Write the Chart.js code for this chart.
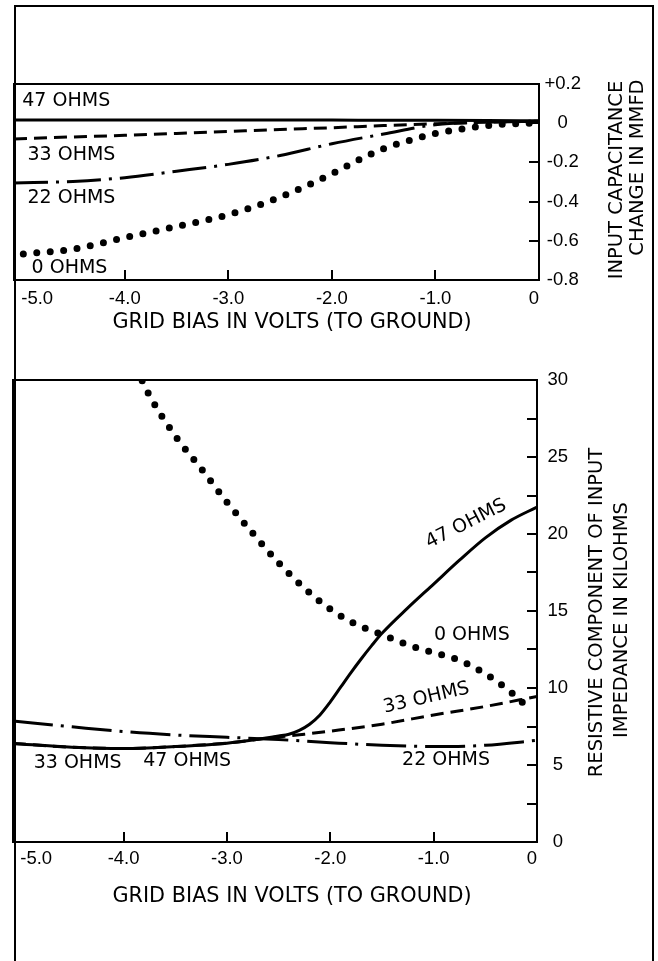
<!DOCTYPE html>
<html><head><meta charset="utf-8">
<script src="https://cdn.jsdelivr.net/npm/chart.js@4.4.1/dist/chart.umd.min.js"></script>
<style>
html,body{margin:0;padding:0;background:#fff;}
body{width:658px;height:961px;position:relative;overflow:hidden;}
#frame{position:absolute;left:14px;top:5px;width:636px;height:1000px;border:2px solid #000;border-bottom:none;}
canvas{position:absolute;left:0;}
#c1{top:0;} #c2{top:340px;}
</style></head>
<body>
<div id="frame"></div>
<canvas id="c1" width="658" height="340"></canvas>
<canvas id="c2" width="658" height="621"></canvas>
<script>
// ---------- tick labels ----------
const xTicks = [-5, -4, -3, -2, -1, 0];
const xTickLabels = ['-5.0', '-4.0', '-3.0', '-2.0', '-1.0', '0'];
const capTicks = [-0.8, -0.6, -0.4, -0.2, 0, 0.2];
const capTickLabels = ['-0.8', '-0.6', '-0.4', '-0.2', '0', '+0.2'];
const resTicks = [0, 2.5, 5, 7.5, 10, 12.5, 15, 17.5, 20, 22.5, 25, 27.5, 30];
const resTickLabels = ['0', '', '5', '', '10', '', '15', '', '20', '', '25', '', '30'];
const xTitle = 'GRID BIAS IN VOLTS (TO GROUND)';

// ---------- top chart: input capacitance change (mmfd) ----------
const capBias = [-5.07, -4.5, -4.0, -3.5, -3.0, -2.5, -2.0, -1.5, -1.0, -0.5, 0];
const cap47 = [0.016, 0.016, 0.016, 0.016, 0.016, 0.016, 0.016, 0.015, 0.015, 0.014, 0.012];
const cap33 = [-0.080, -0.070, -0.062, -0.052, -0.042, -0.032, -0.023, -0.012, -0.003, 0.005, 0.010];
const cap22 = [-0.305, -0.297, -0.278, -0.245, -0.210, -0.165, -0.105, -0.055, -0.008, 0.005, 0.010];
const cap0Bias = [-4.98, -4.5, -4.0, -3.5, -3.0, -2.5, -2.0, -1.75, -1.5, -1.25, -1.0, -0.75, -0.5, -0.25, 0];
const cap0 = [-0.667, -0.643, -0.584, -0.527, -0.467, -0.377, -0.258, -0.190, -0.130, -0.088, -0.052, -0.030, -0.012, -0.003, 0.0];

// ---------- bottom chart: resistive component (kilohms) ----------
const res47Bias = [-5.07, -4.5, -4.0, -3.5, -3.0, -2.75, -2.5, -2.4, -2.3, -2.2, -2.1, -2.0, -1.9, -1.8, -1.7, -1.6, -1.5, -1.25, -1.0, -0.75, -0.5, -0.25, 0];
const res47 = [6.4, 6.15, 6.07, 6.2, 6.42, 6.62, 6.88, 7.0, 7.25, 7.65, 8.25, 9.1, 10.05, 11.0, 11.9, 12.75, 13.55, 15.2, 16.75, 18.3, 19.75, 20.9, 21.75];
const res33Bias = [-5.07, -4.5, -4.0, -3.5, -3.0, -2.6, -2.25, -2.0, -1.5, -1.0, -0.5, 0];
const res33 = [6.4, 6.15, 6.07, 6.2, 6.42, 6.75, 7.0, 7.2, 7.65, 8.25, 8.8, 9.45];
const res22Bias = [-5.07, -4.5, -4.0, -3.5, -3.0, -2.5, -2.0, -1.5, -1.0, -0.5, 0];
const res22 = [7.85, 7.48, 7.17, 6.95, 6.8, 6.65, 6.45, 6.28, 6.2, 6.28, 6.6];
const res0Bias = [-3.82, -3.75, -3.5, -3.25, -3.0, -2.75, -2.5, -2.25, -2.0, -1.75, -1.5, -1.25, -1.0, -0.75, -0.5, -0.25, -0.05];
const res0 = [29.95, 29.0, 26.37, 24.25, 22.07, 20.05, 18.13, 16.48, 15.12, 14.13, 13.47, 12.8, 12.3, 11.8, 10.92, 9.72, 8.5];

// ---------- helpers ----------
Chart.defaults.font.family = "'DejaVu Sans', sans-serif";
Chart.defaults.color = '#000';
const tickFont = {family: "'Liberation Sans', Arial, sans-serif", size: 18.5};
const pts = (xs, ys) => xs.map((x, i) => ({x: x, y: ys[i]}));
const solid = {borderColor: '#000', borderWidth: 3, pointRadius: 0, fill: false, cubicInterpolationMode: 'monotone'};
const dashed = Object.assign({}, solid, {borderDash: [13, 7]});
const dashDot = Object.assign({}, solid, {borderDash: [34, 8, 3, 8]});
const dotted = Object.assign({}, solid, {borderDash: [0, 13.5], borderCapStyle: 'round', borderWidth: 7});

const extras = {
  id: 'extras',
  afterDatasetsDraw(chart, args, opts) {
    const {ctx, chartArea: a} = chart;
    const sx = chart.scales.x, sy = chart.scales.y;
    ctx.save();
    ctx.strokeStyle = '#000';
    ctx.lineWidth = 2;
    ctx.strokeRect(a.left, a.top, a.right - a.left, a.bottom - a.top);
    ctx.fillStyle = '#000';
    ctx.textBaseline = 'middle';
    (opts.labels || []).forEach(lb => {
      ctx.save();
      ctx.font = opts.labelFont;
      ctx.translate(sx.getPixelForValue(lb.x), sy.getPixelForValue(lb.y));
      ctx.rotate((lb.rot || 0) * Math.PI / 180);
      ctx.textAlign = lb.align || 'center';
      ctx.fillText(lb.text, 0, 0);
      ctx.restore();
    });
    (opts.sideTitle || []).forEach(t => {
      ctx.save();
      ctx.font = opts.titleFont;
      ctx.translate(a.right + t.dx, t.cy);
      ctx.rotate(-Math.PI / 2);
      ctx.textAlign = 'center';
      ctx.fillText(t.text, 0, 0);
      ctx.restore();
    });
    if (opts.bottomTitle) {
      const t = opts.bottomTitle;
      ctx.font = opts.bottomTitleFont;
      ctx.textAlign = 'center';
      ctx.fillText(t.text, t.cx, t.cy);
    }
    ctx.restore();
  }
};

function xAxis(height, labelPad) {
  return {
    type: 'linear', position: 'bottom', min: -5.07, max: 0,
    afterBuildTicks: s => { s.ticks = xTicks.map(v => ({value: v})); },
    afterFit: s => { s.height = height; },
    ticks: {
      callback: v => xTickLabels[xTicks.indexOf(v)],
      align: 'inner', autoSkip: false, maxRotation: 0,
      padding: labelPad, color: '#000', font: tickFont
    },
    grid: {
      drawOnChartArea: false, drawTicks: true, tickLength: -10, lineWidth: 2,
      color: c => (c.tick && c.tick.value > -4.5 && c.tick.value < -0.5) ? '#000' : 'rgba(0,0,0,0)'
    },
    border: {display: false},
    title: {display: false}
  };
}

function yAxis(width, min, max, ticks, labels, pad) {
  return {
    type: 'linear', position: 'right', min: min, max: max,
    afterBuildTicks: s => { s.ticks = ticks.map(v => ({value: v})); },
    afterFit: s => { s.width = width; },
    ticks: {
      callback: v => labels[ticks.indexOf(v)],
      crossAlign: 'center', padding: pad, color: '#000', font: tickFont, autoSkip: false
    },
    grid: {drawOnChartArea: false, drawTicks: true, tickLength: -10, lineWidth: 2, color: '#000'},
    border: {display: false}
  };
}

const baseOpts = {responsive: false, animation: false, devicePixelRatio: 1, events: []};

new Chart(document.getElementById('c1'), {
  type: 'line',
  data: {
    datasets: [
      Object.assign({label: '47 OHMS', data: pts(capBias, cap47)}, solid),
      Object.assign({label: '33 OHMS', data: pts(capBias, cap33)}, dashed),
      Object.assign({label: '22 OHMS', data: pts(capBias, cap22)}, dashDot),
      Object.assign({label: '0 OHMS', data: pts(cap0Bias, cap0)}, dotted)
    ]
  },
  options: Object.assign({}, baseOpts, {
    layout: {padding: {left: 14, top: 84, right: 0, bottom: 0}},
    scales: {
      x: xAxis(60, 17.5),
      y: yAxis(119, -0.8, 0.2, capTicks, capTickLabels, 15.5)
    },
    plugins: {
      legend: {display: false}, tooltip: {enabled: false},
      extras: {
        labelFont: "19px 'DejaVu Sans'",
        titleFont: "19.5px 'DejaVu Sans'",
        bottomTitleFont: "20.8px 'DejaVu Sans'",
        bottomTitle: {text: xTitle, cx: 292, cy: 323},
        labels: [
          {text: '47 OHMS', x: -4.99, y: 0.113, align: 'left'},
          {text: '33 OHMS', x: -4.94, y: -0.162, align: 'left'},
          {text: '22 OHMS', x: -4.94, y: -0.382, align: 'left'},
          {text: '0 OHMS', x: -4.90, y: -0.739, align: 'left'}
        ],
        sideTitle: [
          {text: 'INPUT CAPACITANCE', dx: 77.5, cy: 180},
          {text: 'CHANGE IN MMFD', dx: 98.5, cy: 167.5}
        ]
      }
    }
  }),
  plugins: [extras]
});

new Chart(document.getElementById('c2'), {
  type: 'line',
  data: {
    datasets: [
      Object.assign({label: '47 OHMS', data: pts(res47Bias, res47)}, solid),
      Object.assign({label: '33 OHMS', data: pts(res33Bias, res33)}, dashed),
      Object.assign({label: '22 OHMS', data: pts(res22Bias, res22)}, dashDot, {borderDash: [40, 8, 3, 8]}),
      Object.assign({label: '0 OHMS', data: pts(res0Bias, res0)}, dotted)
    ]
  },
  options: Object.assign({}, baseOpts, {
    layout: {padding: {left: 13, top: 40, right: 0, bottom: 0}},
    scales: {
      x: xAxis(119, 16),
      y: yAxis(121, 0, 30, resTicks, resTickLabels, 20.5)
    },
    plugins: {
      legend: {display: false}, tooltip: {enabled: false},
      extras: {
        labelFont: "19px 'DejaVu Sans'",
        titleFont: "19.5px 'DejaVu Sans'",
        bottomTitleFont: "20.8px 'DejaVu Sans'",
        bottomTitle: {text: xTitle, cx: 292, cy: 557},
        labels: [
          {text: '47 OHMS', x: -0.686, y: 20.65, rot: -27},
          {text: '0 OHMS', x: -0.63, y: 13.44},
          {text: '33 OHMS', x: -1.07, y: 9.35, rot: -13},
          {text: '22 OHMS', x: -0.88, y: 5.29},
          {text: '33 OHMS', x: -4.87, y: 5.1, align: 'left'},
          {text: '47 OHMS', x: -3.81, y: 5.26, align: 'left'}
        ],
        sideTitle: [
          {text: 'RESISTIVE COMPONENT OF INPUT', dx: 60, cy: 272.5},
          {text: 'IMPEDANCE IN KILOHMS', dx: 85, cy: 280}
        ]
      }
    }
  }),
  plugins: [extras]
});
</script>
</body></html>
